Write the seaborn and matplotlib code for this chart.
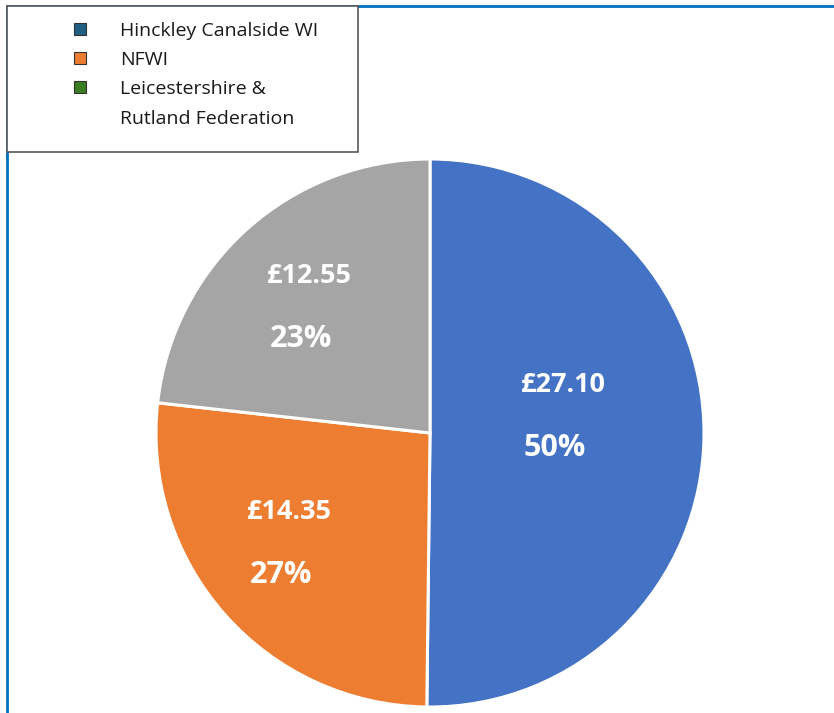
import matplotlib
matplotlib.use('Agg')
import matplotlib.pyplot as plt
from matplotlib.lines import Line2D
from matplotlib.patches import Rectangle
import seaborn as sns

sns.set_theme(style='white')
plt.rcParams['font.family'] = ['Open Sans', 'DejaVu Sans']

# data
names = ['Hinckley Canalside WI', 'NFWI', 'Leicestershire &\nRutland Federation']
amounts = [27.10, 14.35, 12.55]
pct_labels = ['50%', '27%', '23%']
slice_colors = ['#4472C4', '#ED7D31', '#A5A5A5']
legend_colors = ['#1F5F82', '#ED7D31', '#3A7D22']

W, H = 834, 713
fig = plt.figure(figsize=(W / 100, H / 100), dpi=100)

# pie axes: centre (430, 433) px, radius 274 px
cx, cy, r = 430, 433, 274
ax = fig.add_axes([(cx - r) / W, (H - cy - r) / H, 2 * r / W, 2 * r / H])
wedges, _ = ax.pie(amounts, colors=slice_colors, startangle=90, counterclock=False,
                   wedgeprops=dict(edgecolor='white', linewidth=2.2))
ax.set_xlim(-1, 1)
ax.set_ylim(-1, 1)
ax.set_aspect('equal')
ax.axis('off')

# slice labels (amount above, percentage below)
label_xy = [(0.47, 0.066), (-0.53, -0.40), (-0.456, 0.462)]
for (x, y), a, p in zip(label_xy, amounts, pct_labels):
    ax.text(x + 0.015, y + 0.11, f'£{a:.2f}', ha='center', va='center',
            color='white', fontsize=19.5, fontweight='bold')
    ax.text(x - 0.015, y - 0.12, p, ha='center', va='center',
            color='white', fontsize=22, fontweight='bold')

# chart frame (blue top and left edges)
fig.add_artist(Line2D([7 / W, 1], [1 - 6 / H, 1 - 6 / H], color='#0070C0', lw=2))
fig.add_artist(Line2D([7 / W, 7 / W], [0, 1 - 6 / H], color='#0070C0', lw=2))

# legend box
fig.add_artist(Rectangle((7 / W, 1 - 152 / H), (358 - 7) / W, (152 - 6) / H,
                         transform=fig.transFigure, facecolor='white',
                         edgecolor='#595959', lw=1.2, zorder=2))
handles, labels = [], []
for c, n in zip(legend_colors, names):
    for i, line in enumerate(n.split('\n')):
        if i == 0:
            handles.append(Line2D([], [], marker='s', linestyle='none', markersize=8.5,
                                  markerfacecolor=c, markeredgecolor='#333333',
                                  markeredgewidth=0.8))
        else:
            handles.append(Line2D([], [], linestyle='none'))
        labels.append(line)
leg = fig.legend(handles, labels, loc='upper left', bbox_to_anchor=(61 / W, 1 - 12 / H),
                 frameon=False, fontsize=14, handlelength=1.0, handletextpad=1.55,
                 borderpad=0, labelspacing=0.58)
leg.set_zorder(3)
for t in leg.get_texts():
    t.set_color('#1a1a1a')

fig.savefig('out.png', dpi=100)
